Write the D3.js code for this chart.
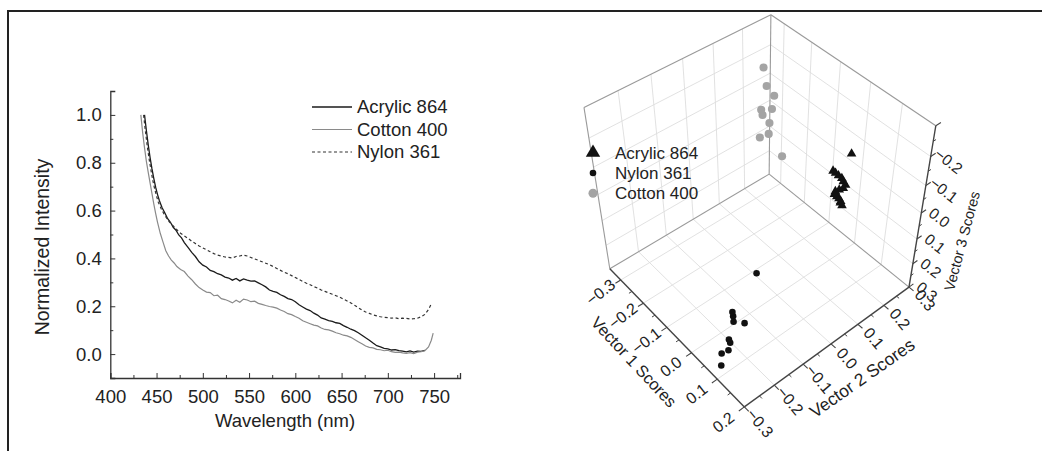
<!DOCTYPE html>
<html><head><meta charset="utf-8">
<script src="https://cdn.jsdelivr.net/npm/d3@7"></script>
<style>body{margin:0;background:#fff}svg{display:block}text{font-family:"Liberation Sans",Arial,sans-serif;fill:#222}</style>
</head><body>
<svg id="c" width="1042" height="451"></svg>
<script>
// ---------- emission spectra ----------
const acrylicNm = [437,439,441,443,445,447,449,451,453,456,459,462,465,468,471,474,477,480,484,488,492,496,500,504,508,512,516,520,524,528,532,536,540,544,548,552,556,560,564,568,572,576,580,584,588,592,596,600,604,608,612,616,620,624,628,632,636,640,644,648,652,656,660,664,668,672,676,680,684,688,692,696,700,704,708,712,716,720,724,728,732,736,740];
const acrylicVal = [1.000,0.935,0.875,0.822,0.775,0.735,0.698,0.668,0.642,0.612,0.590,0.566,0.551,0.530,0.518,0.498,0.486,0.466,0.446,0.425,0.408,0.386,0.372,0.364,0.350,0.345,0.336,0.331,0.322,0.318,0.309,0.316,0.306,0.314,0.309,0.305,0.306,0.298,0.290,0.281,0.268,0.262,0.258,0.248,0.241,0.232,0.228,0.219,0.206,0.197,0.188,0.182,0.171,0.163,0.151,0.146,0.140,0.137,0.131,0.128,0.119,0.112,0.104,0.098,0.089,0.079,0.068,0.058,0.046,0.035,0.030,0.024,0.022,0.017,0.019,0.014,0.012,0.009,0.013,0.008,0.012,0.011,0.016];
const cottonNm = [433,435,437,439,441,443,445,447,449,451,454,457,460,463,466,469,472,476,480,484,488,492,496,500,504,508,512,516,520,524,528,532,536,540,544,548,552,556,560,564,568,572,576,580,584,588,592,596,600,604,608,612,616,620,624,628,632,636,640,644,648,652,656,660,664,668,672,676,680,684,688,692,696,700,704,708,712,716,720,724,728,732,736,740,744,747,749];
const cottonVal = [1.000,0.925,0.862,0.806,0.760,0.716,0.672,0.628,0.588,0.552,0.505,0.468,0.432,0.410,0.393,0.381,0.366,0.354,0.345,0.326,0.311,0.293,0.278,0.268,0.259,0.257,0.244,0.246,0.232,0.228,0.222,0.214,0.225,0.217,0.230,0.226,0.219,0.221,0.212,0.208,0.203,0.199,0.196,0.192,0.184,0.178,0.169,0.165,0.157,0.150,0.139,0.133,0.127,0.121,0.118,0.109,0.103,0.101,0.096,0.089,0.085,0.079,0.076,0.070,0.061,0.052,0.043,0.034,0.028,0.026,0.020,0.018,0.014,0.016,0.010,0.007,0.008,0.005,0.003,0.006,0.002,0.008,0.010,0.014,0.030,0.058,0.088];
const nylonNm = [436,438,440,442,444,446,448,450,452,455,458,461,464,467,470,473,476,480,484,488,492,496,500,504,508,512,516,520,524,528,532,536,540,544,548,552,556,560,564,568,572,576,580,584,588,592,596,600,604,608,612,616,620,624,628,632,636,640,644,648,652,656,660,664,668,672,676,680,684,688,692,696,700,704,708,712,716,720,724,728,732,736,740,744,747];
const nylonVal = [1.000,0.930,0.868,0.815,0.768,0.725,0.690,0.660,0.634,0.608,0.586,0.568,0.552,0.540,0.528,0.516,0.505,0.494,0.484,0.472,0.462,0.452,0.444,0.436,0.428,0.420,0.414,0.410,0.406,0.404,0.402,0.408,0.410,0.414,0.410,0.404,0.398,0.392,0.386,0.380,0.374,0.366,0.358,0.350,0.342,0.336,0.328,0.320,0.312,0.304,0.296,0.290,0.282,0.276,0.268,0.262,0.256,0.250,0.244,0.238,0.230,0.222,0.214,0.204,0.194,0.184,0.176,0.170,0.164,0.160,0.156,0.154,0.152,0.150,0.152,0.148,0.150,0.149,0.147,0.148,0.150,0.156,0.166,0.186,0.210];
const wlTicks = [400,450,500,550,600,650,700,750];
const wlMinor = [425,475,525,575,625,675,725,775];
const intTicks = [0.0,0.2,0.4,0.6,0.8,1.0];
const intMinor = [0.1,0.3,0.5,0.7,0.9];

// ---------- principal component scores ----------
const acrylicV1 = [0.036,-0.002,-0.002,-0.009,0.037,0.017,0.034,0.036,0.006,0.002,0.017,-0.009,0.016,0.031,0.013,0.028];
const acrylicV2 = [0.21,0.19,0.20,0.22,0.18,0.21,0.20,0.19,0.21,0.20,0.18,0.22,0.20,0.19,0.21,0.20];
const acrylicV3 = [-0.137,-0.059,-0.045,-0.018,-0.070,-0.023,-0.030,-0.026,0.017,0.020,0.005,0.062,0.035,0.027,0.061,0.052];
const nylonV1 = [-0.042,0.002,0.008,0.016,0.053,0.050,0.070,0.079,0.065,0.086];
const nylonV2 = [-0.036,-0.161,-0.164,-0.170,-0.165,-0.216,-0.229,-0.243,-0.254,-0.274];
const nylonV3 = [0.22,0.24,0.25,0.26,0.23,0.26,0.24,0.25,0.27,0.28];
const cottonV1 = [-0.23,-0.27,-0.24,-0.28,-0.22,-0.25,-0.26,-0.23,-0.27,-0.24];
const cottonV2 = [0.162,0.211,0.210,0.241,0.145,0.178,0.213,0.182,0.187,0.244];
const cottonV3 = [-0.267,-0.153,-0.140,-0.048,-0.140,-0.082,-0.026,-0.025,0.021,0.105];
const v1Domain = [-0.35,0.2], v2Domain = [-0.3,0.3], v3Domain = [0.3,-0.3];
const v1Ticks = [-0.3,-0.2,-0.1,0.0,0.1,0.2];
const v2Ticks = [-0.3,-0.2,-0.1,0.0,0.1,0.2,0.3];
const v3Ticks = [-0.2,-0.1,0.0,0.1,0.2,0.3];

const svg = d3.select("#c");
const fmt1 = d3.format(".1f");

// ================= left panel: spectra =================
const x = d3.scaleLinear().domain([400,778]).range([110.3,460]);
const y = d3.scaleLinear().domain([-0.1,1.1]).range([378,91]);
const L = svg.append("g");
const fs = 18.5;
const styleAxis = g=>{g.select(".domain").attr("stroke","#333").attr("stroke-width",1.3);
  g.selectAll("line").attr("stroke","#333");
  g.selectAll("text").attr("font-size",fs).attr("fill","#222").attr("font-family","Liberation Sans, Arial");};
L.append("g").attr("transform","translate(0,378)")
  .call(d3.axisBottom(x).tickValues(wlTicks).tickFormat(d3.format("d")).tickSize(-5).tickPadding(12)).call(styleAxis);
L.append("g").attr("transform","translate(0,378)")
  .call(d3.axisBottom(x).tickValues(wlMinor).tickFormat("").tickSize(-3))
  .call(g=>{g.select(".domain").remove();g.selectAll("line").attr("stroke","#333");});
L.append("g").attr("transform","translate(110.3,0)")
  .call(d3.axisLeft(y).tickValues(intTicks).tickFormat(fmt1).tickSize(-5).tickPadding(8.5)).call(styleAxis);
L.append("g").attr("transform","translate(110.3,0)")
  .call(d3.axisLeft(y).tickValues(intMinor).tickFormat("").tickSize(-3))
  .call(g=>{g.select(".domain").remove();g.selectAll("line").attr("stroke","#333");});
L.append("text").attr("transform","translate(49,247) rotate(-90)").attr("text-anchor","middle").attr("font-size",19.5).text("Normalized Intensity");
L.append("text").attr("x",285).attr("y",427).attr("text-anchor","middle").attr("font-size",fs).text("Wavelength (nm)");

const line = d3.line().x(d=>x(d[0])).y(d=>y(d[1]));
const spectra = [
  {name:"Acrylic 864", nm:acrylicNm, v:acrylicVal, color:"#1b1b1b", dash:null, w:1.3},
  {name:"Cotton 400", nm:cottonNm, v:cottonVal, color:"#8a8a8a", dash:null, w:1.2},
  {name:"Nylon 361", nm:nylonNm, v:nylonVal, color:"#333", dash:"3,2.5", w:1.2}
];
spectra.forEach(s=>{
  L.append("path").datum(s.nm.map((n,i)=>[n,s.v[i]])).attr("d",line).attr("fill","none")
   .attr("stroke",s.color).attr("stroke-width",s.w).attr("stroke-dasharray",s.dash);
});
spectra.forEach((s,i)=>{
  const yy = 107 + i*22.5;
  L.append("line").attr("x1",312).attr("x2",352).attr("y1",yy).attr("y2",yy).attr("stroke",s.color).attr("stroke-width",s.w).attr("stroke-dasharray",s.dash);
  L.append("text").attr("x",357).attr("y",yy).attr("dy","0.35em").attr("font-size",fs).text(s.name);
});

// ================= right panel: 3D score plot =================
const sub=(a,b)=>[a[0]-b[0],a[1]-b[1],a[2]-b[2]];
const dot=(a,b)=>a[0]*b[0]+a[1]*b[1]+a[2]*b[2];
const cross=(a,b)=>[a[1]*b[2]-a[2]*b[1],a[2]*b[0]-a[0]*b[2],a[0]*b[1]-a[1]*b[0]];
const nrm=a=>{const l=Math.hypot(...a);return a.map(v=>v/l);};

// perspective camera orbiting the unit box
const view = {azimuth:-0.7047, elevation:0.7713, distance:4.1965, focal:988.2, cx:758.1, cy:178.4, boxX:0.9978, boxZ:0.9987, targetZ:0.1538};
function makeCamera(v){
  const ce=Math.cos(v.elevation), se=Math.sin(v.elevation);
  const C=[v.distance*ce*Math.cos(v.azimuth), v.distance*ce*Math.sin(v.azimuth), v.targetZ+v.distance*se];
  const f=nrm(sub([0,0,v.targetZ],C)), r=nrm(cross(f,[0,0,1])), u=cross(r,f);
  return p=>{const q=sub([p[0]*v.boxX,p[1],p[2]*v.boxZ],C);const zc=dot(q,f);
    return [v.cx+v.focal*dot(q,r)/zc, v.cy-v.focal*dot(q,u)/zc, zc];};
}
const camera = makeCamera(view);
const s1 = d3.scaleLinear().domain(v1Domain).range([-0.5,0.5]);
const s2 = d3.scaleLinear().domain(v2Domain).range([-0.5,0.5]);
const s3 = d3.scaleLinear().domain(v3Domain).range([-0.5,0.5]);
const P = (a,b,c)=>camera([s1(a),s2(b),s3(c)]);
const [a0,a1]=v1Domain,[b0,b1]=v2Domain,[c0,c1]=v3Domain; // c0 = floor, c1 = ceiling
const R = svg.append("g");
const seg = (g,p,q,stroke,w)=>g.append("line").attr("x1",p[0]).attr("y1",p[1]).attr("x2",q[0]).attr("y2",q[1]).attr("stroke",stroke).attr("stroke-width",w);

// grid on floor and the two back walls
const grid = R.append("g");
const gc="#dedede", gw=0.9;
v1Ticks.filter(t=>t<a1).forEach(t=>{seg(grid,P(t,b0,c0),P(t,b1,c0),gc,gw);seg(grid,P(t,b1,c0),P(t,b1,c1),gc,gw);});
v2Ticks.filter(t=>t>b0&&t<b1).forEach(t=>{seg(grid,P(a0,t,c0),P(a1,t,c0),gc,gw);seg(grid,P(a0,t,c0),P(a0,t,c1),gc,gw);});
v3Ticks.filter(t=>t<c0).forEach(t=>{seg(grid,P(a0,b0,t),P(a0,b1,t),gc,gw);seg(grid,P(a0,b1,t),P(a1,b1,t),gc,gw);});

// box frame
const fc="#9a9a9a", fw=1.1;
seg(R,P(a0,b1,c0),P(a0,b1,c1),fc,fw);
seg(R,P(a0,b0,c0),P(a0,b0,c1),fc,fw);
seg(R,P(a0,b0,c1),P(a0,b1,c1),fc,fw);
seg(R,P(a0,b1,c1),P(a1,b1,c1),fc,fw);
seg(R,P(a0,b0,c0),P(a0,b1,c0),fc,fw);
seg(R,P(a0,b1,c0),P(a1,b1,c0),fc,fw);

// axes
const ac="#444", aw=1.4;
seg(R,P(a0,b0,c0),P(a1,b0,c0),ac,aw);
seg(R,P(a1,b0,c0),P(a1,b1,c0),ac,aw);
seg(R,P(a1,b1,c0),P(a1,b1,c1),ac,aw);
const half = (arr)=>arr.slice(0,-1).map((t,i)=>(t+arr[i+1])/2);
v1Ticks.forEach(t=>seg(R,P(t,b0,c0),P(t,b0-0.018,c0),ac,1.1));
half([-0.4,...v1Ticks]).filter(t=>t>a0).forEach(t=>seg(R,P(t,b0,c0),P(t,b0-0.01,c0),ac,1));
v2Ticks.forEach(t=>seg(R,P(a1,t,c0),P(a1+0.016,t,c0),ac,1.1));
half(v2Ticks).forEach(t=>seg(R,P(a1,t,c0),P(a1+0.009,t,c0),ac,1));
[-0.3,...v3Ticks].forEach(t=>seg(R,P(a1,b1,t),P(a1,b1+0.018,t),ac,1.1));
half([-0.3,...v3Ticks]).forEach(t=>seg(R,P(a1,b1,t),P(a1,b1+0.01,t),ac,1));

// tick labels
const tl = 16;
v1Ticks.forEach(t=>{const p=P(t,b0-0.068,c0);
  R.append("text").attr("transform",`translate(${p[0]},${p[1]}) rotate(-38)`).attr("text-anchor","middle").attr("dy","0.35em").attr("font-size",tl).text(fmt1(t));});
v2Ticks.forEach(t=>{const p=P(a1+0.056,t,c0);
  R.append("text").attr("transform",`translate(${p[0]},${p[1]}) rotate(50)`).attr("text-anchor","middle").attr("dy","0.35em").attr("font-size",tl).text(fmt1(t));});
v3Ticks.forEach(t=>{const p=P(a1,b1,t);
  R.append("text").attr("transform",`translate(${p[0]+18},${p[1]+4.5}) rotate(38)`).attr("text-anchor","middle").attr("dy","0.35em").attr("font-size",tl-0.5).text(fmt1(t));});

// axis titles
R.append("text").attr("transform","translate(634,362) rotate(47)").attr("text-anchor","middle").attr("dy","0.35em").attr("font-size",16.5).text("Vector 1 Scores");
R.append("text").attr("transform","translate(862,378) rotate(-35)").attr("text-anchor","middle").attr("dy","0.35em").attr("font-size",17.5).text("Vector 2 Scores");
R.append("text").attr("transform","translate(962,241) rotate(-75)").attr("text-anchor","middle").attr("dy","0.35em").attr("font-size",14.5).text("Vector 3 Scores");

// scores, painted far to near
const groups = [
  {name:"Acrylic 864", v1:acrylicV1, v2:acrylicV2, v3:acrylicV3, shape:d3.symbolTriangle, size:40, color:"#111"},
  {name:"Nylon 361", v1:nylonV1, v2:nylonV2, v3:nylonV3, shape:d3.symbolCircle, size:34, color:"#111"},
  {name:"Cotton 400", v1:cottonV1, v2:cottonV2, v3:cottonV3, shape:d3.symbolCircle, size:52, color:"#a4a4a4"}
];
const pts = [];
groups.forEach(g=>g.v1.forEach((v,i)=>{const p=P(v,g.v2[i],g.v3[i]);pts.push({p,g});}));
pts.sort((a,b)=>b.p[2]-a.p[2]);
R.append("g").selectAll("path").data(pts).join("path")
  .attr("transform",d=>`translate(${d.p[0]},${d.p[1]})`)
  .attr("d",d=>d3.symbol(d.g.shape,d.g.size)())
  .attr("fill",d=>d.g.color);

// legend
const legendSize = {"Acrylic 864":90,"Nylon 361":34,"Cotton 400":64};
groups.forEach((g,i)=>{
  const yy = 152.7 + i*20.3;
  R.append("path").attr("transform",`translate(593,${yy})`).attr("d",d3.symbol(g.shape,legendSize[g.name])()).attr("fill",g.color);
  R.append("text").attr("x",615).attr("y",yy).attr("dy","0.35em").attr("font-size",17).text(g.name);
});

// outer frame
svg.append("path").attr("d","M8,451V11H1042").attr("fill","none").attr("stroke","#222").attr("stroke-width",2);
</script>
</body></html>
